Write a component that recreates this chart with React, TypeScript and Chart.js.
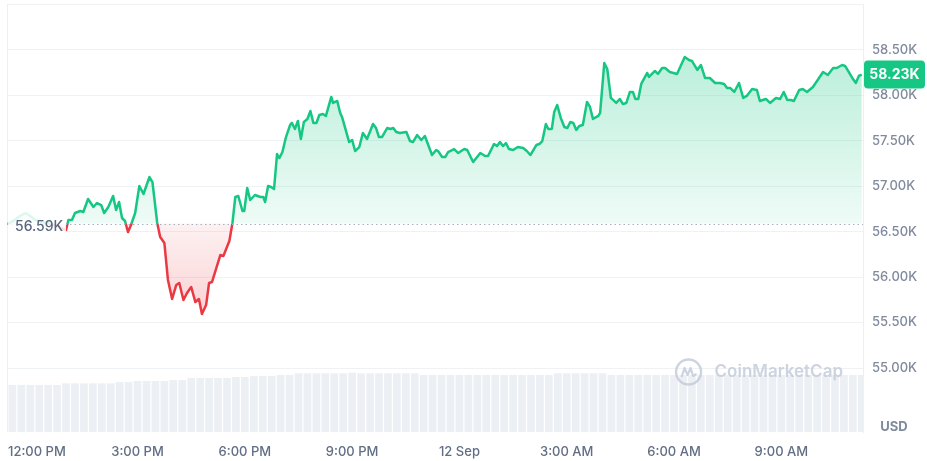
import React, { useEffect, useRef } from 'react';
import { Chart, registerables } from 'chart.js';

Chart.register(...registerables);

// ---- data ----
const baselinePrice = 56590;
const currentPrice = 58230;

// minutes after 12:00 PM (11 Sep)
const minutes = [
  -38, -29, -17, -8, 0, 8, 20, 34, 47, 55,
  60, 64, 70, 75, 84, 89, 97, 106, 112, 119,
  124, 131, 139, 144, 149, 154, 159, 164, 169, 176,
  183, 190, 200, 205, 213, 218, 225, 231, 238, 245,
  250, 257, 263, 270, 277, 283, 288, 295, 300, 305,
  319, 324, 334, 339, 344, 349, 356, 359, 364, 369,
  377, 386, 391, 394, 399, 404, 409, 414, 418, 423,
  429, 436, 439, 444, 449, 454, 459, 465, 470, 475,
  480, 485, 491, 496, 505, 508, 515, 520, 523, 535,
  540, 545, 552, 558, 565, 575, 580, 585, 590, 599,
  604, 609, 614, 620, 631, 637, 642, 649, 656, 662,
  674, 681, 684, 691, 696, 701, 711, 718, 728, 733,
  743, 755, 763, 768, 778, 783, 788, 793, 798, 803,
  810, 818, 827, 833, 839, 849, 854, 859, 865, 869,
  875, 879, 884, 890, 896, 901, 906, 911, 916, 921,
  927, 934, 939, 944, 953, 956, 963, 968, 974, 983,
  989, 994, 1000, 1006, 1011, 1015, 1020, 1025, 1035, 1038,
  1048, 1053, 1060, 1065, 1073, 1085, 1098, 1105, 1110, 1119,
  1125, 1132, 1140, 1149, 1157, 1164, 1169, 1174, 1181, 1189,
  1196, 1202, 1211, 1219, 1224, 1234, 1241, 1251, 1258, 1264,
  1270, 1276, 1281, 1290, 1296, 1303, 1313, 1321, 1330, 1338,
  1347, 1353, 1362, 1367, 1379, 1385, 1390, 1395,
];

const prices = [
  56585, 56618, 56673, 56706, 56673, 56629, 56607, 56585, 56563, 56530,
  56519, 56629, 56629, 56706, 56728, 56717, 56860, 56772, 56816, 56794,
  56706, 56772, 56893, 56739, 56827, 56651, 56618, 56497, 56574, 56706,
  57003, 56915, 57102, 57047, 56596, 56442, 56376, 55969, 55760, 55914,
  55936, 55748, 55826, 55892, 55726, 55760, 55594, 55693, 55936, 55947,
  56244, 56233, 56398, 56585, 56882, 56893, 56728, 56728, 56981, 56849,
  56904, 56882, 56882, 56827, 57003, 56992, 56970, 57355, 57311, 57377,
  57542, 57675, 57697, 57631, 57719, 57520, 57708, 57741, 57829, 57697,
  57697, 57785, 57796, 57774, 57983, 57917, 57939, 57807, 57763, 57487,
  57509, 57388, 57432, 57587, 57520, 57686, 57642, 57542, 57542, 57642,
  57631, 57642, 57598, 57587, 57598, 57498, 57487, 57564, 57509, 57553,
  57344, 57399, 57388, 57322, 57322, 57377, 57410, 57366, 57410, 57399,
  57267, 57366, 57333, 57333, 57465, 57443, 57487, 57443, 57476, 57410,
  57399, 57432, 57421, 57388, 57344, 57454, 57465, 57498, 57686, 57631,
  57631, 57818, 57895, 57752, 57653, 57642, 57708, 57697, 57620, 57664,
  57675, 57928, 57873, 57741, 57774, 57807, 58357, 58291, 57972, 57917,
  57961, 57906, 57917, 58038, 58038, 57961, 57961, 58126, 58247, 58203,
  58269, 58236, 58302, 58302, 58258, 58236, 58423, 58390, 58379, 58280,
  58335, 58192, 58192, 58137, 58137, 58126, 58082, 58082, 58038, 58137,
  57972, 57994, 58071, 58060, 57939, 57961, 57917, 57972, 57961, 58038,
  57950, 57950, 57939, 58060, 58071, 58038, 58093, 58170, 58258, 58225,
  58302, 58302, 58335, 58324, 58192, 58137, 58214, 58230,
];

// 24h volume (billions USD), one bar every 15 minutes starting at 11:30 AM
const volumeStartMinute = -30;
const volumeStepMinutes = 15;
const volumes = [
  29.7, 29.7, 29.7, 29.7, 29.7, 29.7,
  30.7, 30.7, 30.7, 30.7, 30.7, 30.7,
  31.5, 31.5,
  32.2, 32.2, 32.2, 32.2,
  32.8, 32.8,
  34.1, 34.1, 34.1, 34.1, 34.1,
  34.7, 34.7,
  35.3, 35.3, 35.3,
  36.0, 36.0,
  37.0, 37.0, 37.0, 37.0, 37.0, 37.0,
  37.4,
  37.0, 37.0, 37.0, 37.0, 37.0, 37.0, 37.0,
  36.0, 36.0, 36.0, 36.0, 36.0, 36.0, 36.0, 36.0, 36.0, 36.0, 36.0, 36.0, 36.0, 36.0, 36.0,
  37.0, 37.0, 37.0, 37.0, 37.0, 37.0,
  36.0, 36.0, 36.0, 36.0, 36.0, 36.0, 36.0, 36.0, 36.0, 36.0,
  36.0, 36.0, 36.0, 36.0, 36.0, 36.0, 36.0, 36.0, 36.0, 36.0,
  36.0, 36.0, 36.0, 36.0, 36.0, 36.0, 36.0, 36.0, 36.0,
];

const timeTickValues = [0, 180, 360, 540, 720, 900, 1080, 1260];
const timeTickLabels = ['12:00 PM', '3:00 PM', '6:00 PM', '9:00 PM', '12 Sep', '3:00 AM', '6:00 AM', '9:00 AM'];
const priceTickValues = [55000, 55500, 56000, 56500, 57000, 57500, 58000, 58500, 59000];
const priceTickLabels = ['55.00K', '55.50K', '56.00K', '56.50K', '57.00K', '57.50K', '58.00K', '58.50K', ''];
const baselineLabel = '56.59K';
const currentLabel = '58.23K';
const currencyLabel = 'USD';
const watermarkText = 'CoinMarketCap';

const GREEN = '#16c784';
const RED = '#ea3943';
const FONT = 'Inter, "Noto Sans", sans-serif';

function greenA(a: number) { return `rgba(22,199,132,${a})`; }
function redA(a: number) { return `rgba(234,57,67,${a})`; }

const overlayPlugin = {
  id: 'cmcOverlay',
  beforeDatasetsDraw(chart: any) {
    const { ctx, chartArea: a } = chart;
    ctx.save();
    ctx.strokeStyle = '#eceff3';
    ctx.lineWidth = 1;
    ctx.beginPath();
    ctx.moveTo(a.left + 0.5, a.top);
    ctx.lineTo(a.left + 0.5, a.bottom);
    ctx.stroke();
    ctx.restore();
  },
  afterDatasetsDraw(chart: any) {
    const { ctx, chartArea: a, scales } = chart;
    const yb = scales.y.getPixelForValue(baselinePrice);
    ctx.save();
    // dotted baseline
    ctx.strokeStyle = '#a6b0c3';
    ctx.lineWidth = 1;
    ctx.setLineDash([1.5, 3]);
    ctx.beginPath();
    ctx.moveTo(a.left, Math.round(yb) + 0.5);
    ctx.lineTo(a.right, Math.round(yb) + 0.5);
    ctx.stroke();
    ctx.setLineDash([]);

    // baseline label
    ctx.fillStyle = 'rgba(255,255,255,0.85)';
    ctx.fillRect(a.left + 1, yb - 13, 58, 28);
    ctx.font = `500 14px ${FONT}`;
    ctx.fillStyle = '#58667e';
    ctx.textAlign = 'left';
    ctx.textBaseline = 'middle';
    ctx.fillText(baselineLabel, a.left + 8, yb + 3);

    // watermark
    const wx = a.right - 20;
    const wy = a.bottom - 60;
    ctx.font = `600 17px ${FONT}`;
    ctx.fillStyle = 'rgba(196,204,219,0.85)';
    ctx.textAlign = 'right';
    ctx.fillText(watermarkText, wx, wy);
    const tw = ctx.measureText(watermarkText).width;
    const cx = wx - tw - 26;
    ctx.strokeStyle = 'rgba(196,204,219,0.85)';
    ctx.lineWidth = 2.4;
    ctx.beginPath();
    ctx.arc(cx, wy, 12.5, 0, Math.PI * 2);
    ctx.stroke();
    ctx.lineWidth = 2.2;
    ctx.lineJoin = 'round';
    ctx.beginPath();
    ctx.moveTo(cx - 7, wy + 5);
    ctx.lineTo(cx - 4, wy - 4);
    ctx.lineTo(cx - 1, wy + 3);
    ctx.lineTo(cx + 2, wy - 4);
    ctx.lineTo(cx + 4.5, wy + 4);
    ctx.lineTo(cx + 8, wy + 2);
    ctx.stroke();
    ctx.restore();
  },
  afterDraw(chart: any) {
    const { ctx, chartArea: a, scales } = chart;
    ctx.save();
    // current price box
    const yc = scales.y.getPixelForValue(currentPrice);
    ctx.fillStyle = GREEN;
    ctx.beginPath();
    (ctx as any).roundRect(a.right + 1, yc - 14, 61, 28, 4);
    ctx.fill();
    ctx.fillStyle = '#ffffff';
    ctx.font = `700 14px ${FONT}`;
    ctx.textAlign = 'center';
    ctx.textBaseline = 'middle';
    ctx.fillText(currentLabel, a.right + 31.5, yc + 0.5);

    // currency
    ctx.fillStyle = '#808a9d';
    ctx.font = `700 13px ${FONT}`;
    ctx.fillText(currencyLabel, a.right + 31, a.bottom - 5);

    // x labels
    ctx.font = `500 13px ${FONT}`;
    ctx.fillStyle = '#616e85';
    ctx.textAlign = 'left';
    timeTickValues.forEach((v, i) => {
      const px = scales.x.getPixelForValue(v);
      const w = ctx.measureText(timeTickLabels[i]).width;
      const left = Math.max(px - w / 2, a.left + 1);
      ctx.fillText(timeTickLabels[i], left, a.bottom + 20);
    });
    ctx.restore();
  },
};

export default function App() {
  const ref = useRef<HTMLCanvasElement | null>(null);

  useEffect(() => {
    if (!ref.current) return;
    const priceData = minutes.map((m, i) => ({ x: m, y: prices[i] }));
    const volumeData = volumes.map((v, i) => ({ x: volumeStartMinute + i * volumeStepMinutes, y: v }));

    const lineColor = (c: any) => {
      const chart = c.chart;
      const a = chart.chartArea;
      if (!a) return GREEN;
      const yb = chart.scales.y.getPixelForValue(baselinePrice);
      const f = Math.min(Math.max((yb - a.top) / (a.bottom - a.top), 0), 1);
      const g = chart.ctx.createLinearGradient(0, a.top, 0, a.bottom);
      g.addColorStop(0, GREEN);
      g.addColorStop(f, GREEN);
      g.addColorStop(f, RED);
      g.addColorStop(1, RED);
      return g;
    };
    const fillColor = (c: any) => {
      const chart = c.chart;
      const a = chart.chartArea;
      if (!a) return greenA(0.2);
      const yb = chart.scales.y.getPixelForValue(baselinePrice);
      const f = Math.min(Math.max((yb - a.top) / (a.bottom - a.top), 0), 1);
      const g = chart.ctx.createLinearGradient(0, a.top, 0, a.bottom);
      g.addColorStop(0, greenA(0.36));
      g.addColorStop(f, greenA(0.07));
      g.addColorStop(f, redA(0.07));
      g.addColorStop(1, redA(0.42));
      return g;
    };

    const chart = new Chart(ref.current, {
      type: 'line',
      data: {
        datasets: [
          {
            type: 'line',
            data: priceData,
            borderColor: lineColor,
            backgroundColor: fillColor,
            borderWidth: 2.5,
            borderJoinStyle: 'round',
            pointRadius: 0,
            tension: 0,
            fill: { target: { value: baselinePrice } },
            yAxisID: 'y',
            order: 0,
          } as any,
          {
            type: 'bar',
            data: volumeData,
            backgroundColor: 'rgba(220,225,233,0.55)',
            borderWidth: 0,
            barPercentage: 0.86,
            categoryPercentage: 1,
            yAxisID: 'yVol',
            order: 1,
          } as any,
        ],
      },
      options: {
        animation: false,
        responsive: false,
        maintainAspectRatio: false,
        layout: { padding: { left: 7, top: 4, right: 0, bottom: 29 } },
        plugins: { legend: { display: false }, tooltip: { enabled: false } },
        scales: {
          x: {
            type: 'linear',
            display: false,
            offset: false,
            grid: { offset: false },
            bounds: 'data',
            min: -39,
            max: 1397,
          },
          y: {
            type: 'linear',
            position: 'right',
            min: 54296,
            max: 59006,
            afterBuildTicks: (axis: any) => {
              axis.ticks = priceTickValues.map((v) => ({ value: v }));
            },
            afterFit: (axis: any) => {
              axis.width = 64;
              axis.paddingTop = 0;
              axis.paddingBottom = 0;
            },
            grid: { color: '#eff2f5', drawTicks: false, lineWidth: 1 },
            border: { display: true, color: '#eceff3' },
            ticks: {
              padding: 9,
              color: '#808a9d',
              font: { family: FONT, size: 13, weight: '500' as any },
              callback: (value: any) => {
                const i = priceTickValues.indexOf(Number(value));
                return i >= 0 ? priceTickLabels[i] : '';
              },
            },
          },
          yVol: {
            type: 'linear',
            display: false,
            min: 0,
            max: 270,
          },
        },
      },
      plugins: [overlayPlugin],
    });
    return () => chart.destroy();
  }, []);

  return (
    <div style={{ position: 'absolute', left: 0, top: 0, width: 927, height: 461, background: '#ffffff' }}>
      <canvas ref={ref} width={927} height={461} style={{ width: 927, height: 461, display: 'block' }} />
    </div>
  );
}
